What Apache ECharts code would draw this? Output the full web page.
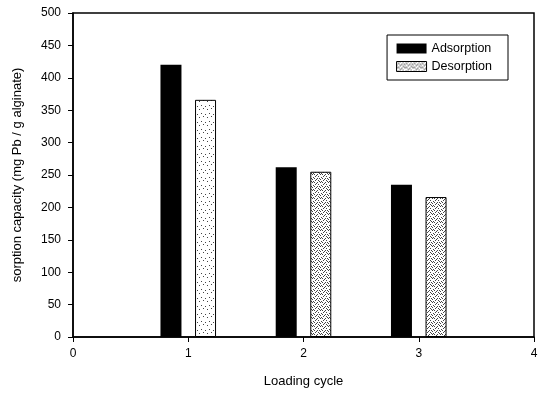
<!DOCTYPE html>
<html>
<head>
<meta charset="utf-8">
<script src="https://cdn.jsdelivr.net/npm/echarts@6/dist/echarts.min.js"></script>
<style>
  html, body { margin: 0; padding: 0; background: #fff; }
  #chart { width: 543px; height: 393px; }
</style>
</head>
<body>
<div id="chart"></div>
<script>
// loading cycles and measured capacities (mg Pb / g alginate)
var cycles = [1, 2, 3];
var adsorption = [420, 262, 235];
var desorption = [366, 255, 216];
var seriesNames = ['Adsorption', 'Desorption'];
var xTicks = [0, 1, 2, 3, 4];

// stippled fill for desorption bars
function makeStipple(density) {
    var c = document.createElement('canvas');
    c.width = 8; c.height = 8;
    var ctx = c.getContext('2d');
    ctx.fillStyle = '#fff';
    ctx.fillRect(0, 0, 8, 8);
    ctx.fillStyle = '#444';
    var dots = [[1,1],[5,2],[3,4],[7,5],[0,6],[4,7],[2,2],[6,0],[6,4],[2,6],[0,3],[5,6],[3,0],[7,2],[1,5],[4,3]];
    for (var i = 0; i < density; i++) {
        ctx.fillRect(dots[i][0], dots[i][1], 1, 1);
    }
    return c;
}
var lightFill = { image: makeStipple(4), repeat: 'repeat' };
var denseFill = { image: makeStipple(16), repeat: 'repeat' };

var adsData = cycles.map(function(c, i){ return [c - 0.15, adsorption[i]]; });
var desData = cycles.map(function(c, i){
    return { value: [c + 0.15, desorption[i]], itemStyle: { color: i === 0 ? lightFill : denseFill } };
});

var myChart = echarts.init(document.getElementById('chart'));
myChart.setOption({
    animation: false,
    textStyle: { fontFamily: 'Liberation Sans, Arial, sans-serif', color: '#000' },
    grid: {
        left: 73, right: 9, top: 13, bottom: 55,
        show: true, borderColor: '#000', borderWidth: 1.5
    },
    legend: {
        right: 35, top: 35,
        orient: 'vertical',
        icon: 'rect',
        itemWidth: 30, itemHeight: 10, itemGap: 5,
        padding: [7, 16, 7, 9],
        borderColor: '#000', borderWidth: 1,
        textStyle: { fontSize: 12.5, color: '#000' },
        data: [
            { name: seriesNames[0], itemStyle: { color: '#000' } },
            { name: seriesNames[1], itemStyle: { color: denseFill, borderColor: '#000', borderWidth: 1 } }
        ]
    },
    xAxis: {
        type: 'value', min: xTicks[0], max: xTicks[xTicks.length - 1], interval: 1,
        name: 'Loading cycle', nameLocation: 'middle', nameGap: 38,
        nameTextStyle: { fontSize: 13, color: '#000' },
        axisLine: { lineStyle: { color: '#000', width: 1.5 } },
        axisTick: { show: true, length: 5, lineStyle: { color: '#000' } },
        axisLabel: { fontSize: 12, color: '#000', margin: 11 },
        splitLine: { show: false }
    },
    yAxis: {
        type: 'value', min: 0, max: 500, interval: 50,
        name: 'sorption capacity (mg Pb / g alginate)', nameLocation: 'middle', nameGap: 49,
        nameTextStyle: { fontSize: 13, color: '#000' },
        axisLine: { show: true, lineStyle: { color: '#000', width: 1.5 } },
        axisTick: { show: true, length: 5, lineStyle: { color: '#000' } },
        axisLabel: { fontSize: 12, color: '#000', margin: 12 },
        splitLine: { show: false }
    },
    series: [
        {
            name: seriesNames[0], type: 'bar', barWidth: 21, barGap: '-100%',
            itemStyle: { color: '#000' },
            data: adsData
        },
        {
            name: seriesNames[1], type: 'bar', barWidth: 21, barGap: '-100%',
            itemStyle: { color: denseFill, borderColor: '#000', borderWidth: 1 },
            data: desData
        }
    ]
});
</script>
</body>
</html>
